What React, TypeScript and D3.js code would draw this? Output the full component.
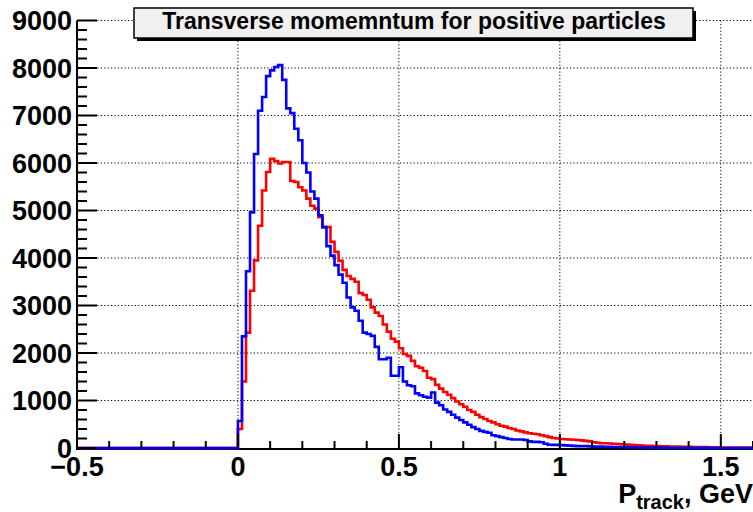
import React from "react";
import * as d3 from "d3";

// Histogram binning: bins of 0.0125 GeV starting at P = 0
const BIN_WIDTH = 0.0125;
const X_MIN = -0.5;
const X_MAX = 1.6;
const Y_MAX = 9000;

// Entries per bin, first series (blue)
const blueCounts = [
  570, 2350, 3720, 4960, 6190, 7100, 7390, 7830, 7950, 8020,
  8060, 7750, 7150, 7050, 6720, 6480, 6000, 5800, 5400, 5250,
  4900, 4650, 4250, 4050, 3850, 3650, 3480, 3170, 2960, 2890,
  2680, 2430, 2400, 2360, 2130, 1870, 1870, 1900, 1520, 1520,
  1700, 1400, 1320, 1300, 1150, 1110, 1080, 1060, 1170, 955,
  900, 810, 760, 700, 640, 590, 540, 490, 440, 400,
  360, 340, 320, 270, 250, 230, 210, 190, 180, 180,
  180, 170, 140, 130, 130, 120, 90, 70, 65, 65,
  60, 55, 50, 45, 40, 40, 40, 35, 30, 30,
  28, 25, 25, 22, 20, 20, 18, 15, 15, 12,
  12, 10, 10, 8, 8, 8, 6, 6, 5, 5,
  4, 4, 3, 3, 3, 2, 2, 2, 2, 1,
];

// Entries per bin, second series (red)
const redCounts = [
  400, 1400, 2430, 3310, 3950, 4680, 5420, 5810, 6090, 6040,
  5990, 6020, 6020, 5620, 5600, 5490, 5420, 5250, 5100, 5040,
  4860, 4650, 4650, 4340, 4130, 3940, 3750, 3620, 3560, 3500,
  3260, 3220, 3120, 2960, 2850, 2780, 2600, 2450, 2300, 2240,
  2100, 1980, 1940, 1835, 1720, 1690, 1620, 1480, 1450, 1330,
  1250, 1180, 1120, 1050, 980, 920, 870, 800, 760, 700,
  650, 610, 570, 540, 500, 470, 450, 420, 400, 370,
  350, 330, 310, 300, 290, 270, 250, 230, 210, 200,
  190, 185, 180, 175, 170, 160, 150, 140, 120, 110,
  100, 100, 95, 90, 85, 80, 75, 70, 60, 55,
  50, 45, 45, 40, 40, 35, 35, 30, 30, 30,
  25, 25, 25, 20, 20, 20, 20, 15, 15, 15,
  12, 12, 10, 10, 10, 8, 8, 8,
];

const xTickValues = [-0.5, 0, 0.5, 1, 1.5];
const xTickLabels = ["\u22120.5", "0", "0.5", "1", "1.5"];
const yTickValues = [0, 1000, 2000, 3000, 4000, 5000, 6000, 7000, 8000, 9000];
const yTickLabels = ["0", "1000", "2000", "3000", "4000", "5000", "6000", "7000", "8000", "9000"];

const TITLE = "Transverse momemntum for positive particles";

const FONT = "'Liberation Sans', Arial, Helvetica, sans-serif";

function histPoints(counts: number[]): [number, number][] {
  const pts: [number, number][] = [[X_MIN, 0]];
  counts.forEach((c, i) => pts.push([i * BIN_WIDTH, c]));
  const end = Math.min(counts.length * BIN_WIDTH, X_MAX);
  pts.push([end, 0]);
  if (end < X_MAX) pts.push([X_MAX, 0]);
  return pts;
}

export default function App() {
  const W = 753;
  const H = 512;

  const x = d3.scaleLinear().domain([X_MIN, X_MAX]).range([77, 753]);
  const y = d3.scaleLinear().domain([0, Y_MAX]).range([448, 20.5]);

  const line = d3
    .line<[number, number]>()
    .x((d) => x(d[0]))
    .y((d) => y(d[1]))
    .curve(d3.curveStepAfter);

  const nBins = Math.round((X_MAX - 0) / BIN_WIDTH);
  const redPath = line(histPoints(redCounts.slice(0, nBins))) || "";
  const bluePath = line(histPoints(blueCounts.slice(0, nBins))) || "";

  const x0 = x(X_MIN);
  const yBase = y(0);

  // secondary ticks
  const xMinor = d3.range(-5, 17).map((k) => k / 10);
  const yMinor = d3.range(0, Y_MAX + 1, 200);

  const gridDash = "1.2 2.2";

  return (
    <div style={{ position: "absolute", left: 0, top: 0 }}>
      <svg width={W} height={H} viewBox={`0 0 ${W} ${H}`} style={{ display: "block", background: "#fff" }}>
        <rect x={0} y={0} width={W} height={H} fill="#fff" />

        {/* grid */}
        <g stroke="#000" strokeWidth={1} strokeDasharray={gridDash} fill="none">
          {yTickValues.filter((v) => v > 0).map((v) => (
            <line key={"gy" + v} x1={x0} x2={W} y1={y(v)} y2={y(v)} />
          ))}
          {xTickValues.filter((v) => v > X_MIN).map((v) => (
            <line key={"gx" + v} x1={x(v)} x2={x(v)} y1={y(Y_MAX)} y2={yBase} />
          ))}
        </g>

        {/* x axis line */}
        <line x1={x0 - 1} x2={W} y1={yBase + 1} y2={yBase + 1} stroke="#000" strokeWidth={2} />

        {/* histograms */}
        <path d={redPath} fill="none" stroke="#ff0000" strokeWidth={2.6} strokeLinejoin="miter" />
        <path d={bluePath} fill="none" stroke="#0000ff" strokeWidth={2.6} strokeLinejoin="miter" />

        {/* y axis */}
        <g stroke="#000">
          <line x1={x0} x2={x0} y1={y(Y_MAX)} y2={yBase + 1} strokeWidth={2} />
          {yMinor.map((v) => {
            const major = v % 1000 === 0;
            return (
              <line key={"ty" + v} x1={x0} x2={x0 + (major ? 20 : 10)} y1={y(v)} y2={y(v)} strokeWidth={2} />
            );
          })}
        </g>

        {/* x axis ticks */}
        <g stroke="#000">
          {xMinor.map((v) => {
            const major = Math.abs(v * 2 - Math.round(v * 2)) < 1e-6;
            return (
              <line key={"tx" + v} x1={x(v)} x2={x(v)} y1={yBase} y2={yBase - (major ? 14 : 7)} strokeWidth={2} />
            );
          })}
        </g>

        {/* tick labels */}
        <g fontFamily={FONT} fontWeight="bold" fontSize={27} fill="#000">
          {yTickValues.map((v, i) => (
            <text key={"ly" + v} x={72} y={y(v) + 9.7} textAnchor="end">
              {yTickLabels[i]}
            </text>
          ))}
          {xTickValues.map((v, i) => (
            <text key={"lx" + v} x={x(v)} y={476} textAnchor="middle">
              {xTickLabels[i]}
            </text>
          ))}
        </g>

        {/* axis title */}
        <text x={753} y={503} textAnchor="end" fontFamily={FONT} fontWeight="bold" fontSize={27} fill="#000">
          P
          <tspan fontSize={20} dy={6}>track</tspan>
          <tspan dy={-6}>, GeV</tspan>
        </text>

        {/* title box */}
        <rect x={137} y={11} width={559} height={30} fill="#000" />
        <rect x={134} y={8} width={559} height={30} fill="#f0f0f0" stroke="#000" strokeWidth={1.5} />
        <text x={414} y={28.5} textAnchor="middle" fontFamily={FONT} fontWeight="bold" fontSize={23} fill="#000">
          {TITLE}
        </text>
      </svg>
    </div>
  );
}
